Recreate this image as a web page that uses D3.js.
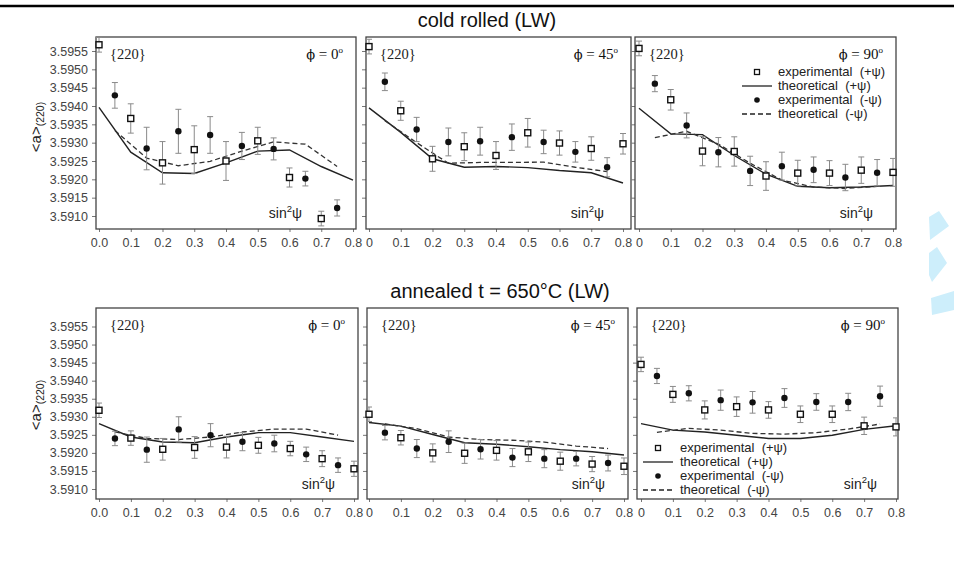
<!DOCTYPE html>
<html>
<head>
<meta charset="utf-8">
<script src="https://cdn.jsdelivr.net/npm/d3@7"></script>
<style>
  body { margin: 0; background: #fff; }
  svg { display: block; }
</style>
</head>
<body>
<script>
// sin^2(psi) positions of the +psi and -psi measurements
const psiPlus  = [0, 0.1, 0.2, 0.3, 0.4, 0.5, 0.6, 0.7, 0.8];
const psiMinus = [0.05, 0.15, 0.25, 0.35, 0.45, 0.55, 0.65, 0.75];

const xTicks = [0, 0.1, 0.2, 0.3, 0.4, 0.5, 0.6, 0.7, 0.8];
const xTickLabelsFirst = ["0.0", "0.1", "0.2", "0.3", "0.4", "0.5", "0.6", "0.7", "0.8"];
const xTickLabelsOther = ["0", "0.1", "0.2", "0.3", "0.4", "0.5", "0.6", "0.7", "0.8"];
const yTicks = [3.5910, 3.5915, 3.5920, 3.5925, 3.5930, 3.5935, 3.5940, 3.5945, 3.5950, 3.5955];
const yTickLabels = ["3.5910", "3.5915", "3.5920", "3.5925", "3.5930", "3.5935", "3.5940", "3.5945", "3.5950", "3.5955"];

const rowTitles = ["cold rolled (LW)", "annealed t = 650°C (LW)"];
const phiLabels = ["0", "45", "90"];

// cold rolled, phi = 0
const cr0ExpPlus  = [3.59567, 3.59366, 3.59245, 3.59281, 3.59250, 3.59305, 3.59205, 3.59093, null];
const cr0ErrPlus  = [0.00020, 0.00040, 0.00058, 0.00065, 0.00053, 0.00037, 0.00026, 0.00020, null];
const cr0ExpMinus = [3.59429, 3.59284, 3.59331, 3.59321, 3.59291, 3.59283, 3.59202, 3.59122];
const cr0ErrMinus = [0.00035, 0.00058, 0.00060, 0.00050, 0.00037, 0.00030, 0.00020, 0.00022];
const cr0TheoPlus  = [3.59396, 3.59274, 3.59218, 3.59216, 3.59245, 3.59277, 3.59280, 3.59235, 3.59198];
const cr0TheoMinus = [3.59333, 3.59258, 3.59237, 3.59249, 3.59277, 3.59302, 3.59296, 3.59235];

// cold rolled, phi = 45
const cr45ExpPlus  = [3.59562, 3.59387, 3.59256, 3.59289, 3.59265, 3.59327, 3.59299, 3.59284, 3.59297];
const cr45ErrPlus  = [0.00020, 0.00026, 0.00034, 0.00038, 0.00038, 0.00039, 0.00033, 0.00032, 0.00028];
const cr45ExpMinus = [3.59466, 3.59336, 3.59302, 3.59304, 3.59315, 3.59302, 3.59275, 3.59233];
const cr45ErrMinus = [0.00024, 0.00033, 0.00038, 0.00038, 0.00036, 0.00032, 0.00028, 0.00026];
const cr45TheoPlus  = [3.59395, 3.59328, 3.59256, 3.59233, 3.59235, 3.59232, 3.59224, 3.59218, 3.59190];
const cr45TheoMinus = [3.59360, 3.59300, 3.59244, 3.59246, 3.59246, 3.59247, 3.59233, 3.59221];

// cold rolled, phi = 90
const cr90ExpPlus  = [3.59557, 3.59417, 3.59277, 3.59276, 3.59209, 3.59217, 3.59217, 3.59225, 3.59219];
const cr90ErrPlus  = [0.00020, 0.00028, 0.00040, 0.00040, 0.00039, 0.00035, 0.00034, 0.00036, 0.00038];
const cr90ExpMinus = [3.59461, 3.59347, 3.59274, 3.59223, 3.59236, 3.59226, 3.59205, 3.59218];
const cr90ErrMinus = [0.00022, 0.00034, 0.00040, 0.00040, 0.00038, 0.00035, 0.00036, 0.00036];
const cr90TheoPlus  = [3.59394, 3.59324, 3.59322, 3.59265, 3.59214, 3.59181, 3.59177, 3.59179, 3.59183];
const cr90TheoMinus = [3.59314, 3.59331, 3.59296, 3.59244, 3.59198, 3.59179, 3.59175, 3.59181];

// annealed, phi = 0
const an0ExpPlus  = [3.59318, 3.59241, 3.59210, 3.59215, 3.59216, 3.59221, 3.59212, 3.59184, 3.59156];
const an0ErrPlus  = [0.00020, 0.00020, 0.00030, 0.00030, 0.00030, 0.00022, 0.00020, 0.00022, 0.00021];
const an0ExpMinus = [3.59240, 3.59209, 3.59265, 3.59249, 3.59231, 3.59226, 3.59196, 3.59166];
const an0ErrMinus = [0.00020, 0.00035, 0.00035, 0.00032, 0.00025, 0.00023, 0.00020, 0.00020];
const an0TheoPlus  = [3.59281, 3.59244, 3.59230, 3.59228, 3.59244, 3.59256, 3.59256, 3.59244, 3.59232];
const an0TheoMinus = [3.59258, 3.59240, 3.59237, 3.59244, 3.59258, 3.59266, 3.59266, 3.59249];

// annealed, phi = 45
const an45ExpPlus  = [3.59307, 3.59242, 3.59200, 3.59199, 3.59207, 3.59203, 3.59177, 3.59169, 3.59163];
const an45ErrPlus  = [0.00020, 0.00020, 0.00025, 0.00028, 0.00027, 0.00027, 0.00025, 0.00021, 0.00023];
const an45ExpMinus = [3.59256, 3.59212, 3.59231, 3.59210, 3.59187, 3.59184, 3.59184, 3.59172];
const an45ErrMinus = [0.00020, 0.00025, 0.00030, 0.00027, 0.00025, 0.00025, 0.00020, 0.00022];
const an45TheoPlus  = [3.59284, 3.59274, 3.59251, 3.59228, 3.59224, 3.59217, 3.59209, 3.59203, 3.59194];
const an45TheoMinus = [3.59280, 3.59267, 3.59244, 3.59237, 3.59235, 3.59230, 3.59219, 3.59212];

// annealed, phi = 90
const an90ExpPlus  = [3.59445, 3.59362, 3.59319, 3.59328, 3.59319, 3.59307, 3.59307, 3.59275, 3.59272];
const an90ErrPlus  = [0.00020, 0.00022, 0.00025, 0.00027, 0.00023, 0.00023, 0.00023, 0.00024, 0.00025];
const an90ExpMinus = [3.59413, 3.59365, 3.59346, 3.59340, 3.59352, 3.59341, 3.59341, 3.59357];
const an90ErrMinus = [0.00021, 0.00021, 0.00028, 0.00030, 0.00026, 0.00023, 0.00024, 0.00028];
const an90TheoPlus  = [3.59281, 3.59263, 3.59258, 3.59249, 3.59240, 3.59240, 3.59249, 3.59265, 3.59275];
const an90TheoMinus = [3.59257, 3.59268, 3.59263, 3.59254, 3.59252, 3.59256, 3.59266, 3.59280];

const legendLabels = ["experimental  (+ψ)", "theoretical  (+ψ)", "experimental  (-ψ)", "theoretical  (-ψ)"];

// ---- layout -------------------------------------------------------------
const W = 954, H = 574;
const SANS = "'Liberation Sans', Arial, Helvetica, sans-serif";
const SERIF = "'Liberation Serif', 'Times New Roman', serif";

// frame box, x pixel range for 0..0.8, y pixel for 3.5910 / 3.5955
const rowLayout = [
  {top: 37, bottom: 229, yLo: 216, yHi: 51, titleX: 487, titleY: 27, ylabY: 127, sinY: 218},
  {top: 308, bottom: 499, yLo: 489, yHi: 326.5, titleX: 500, titleY: 298, ylabY: 405, sinY: 489}
];
const colLayout = [
  [{left: 96, right: 356, x0: 99, x1: 353, sinX: 302}, {left: 366, right: 631, x0: 369, x1: 623, sinX: 604}, {left: 635, right: 896, x0: 639, x1: 893, sinX: 873}],
  [{left: 96, right: 358, x0: 99, x1: 354, sinX: 335}, {left: 367, right: 628, x0: 369, x1: 624, sinX: 605}, {left: 637, right: 898, x0: 641, x1: 896, sinX: 877}]
];

const panelData = [
  [[cr0ExpPlus, cr0ErrPlus, cr0ExpMinus, cr0ErrMinus, cr0TheoPlus, cr0TheoMinus],
   [cr45ExpPlus, cr45ErrPlus, cr45ExpMinus, cr45ErrMinus, cr45TheoPlus, cr45TheoMinus],
   [cr90ExpPlus, cr90ErrPlus, cr90ExpMinus, cr90ErrMinus, cr90TheoPlus, cr90TheoMinus]],
  [[an0ExpPlus, an0ErrPlus, an0ExpMinus, an0ErrMinus, an0TheoPlus, an0TheoMinus],
   [an45ExpPlus, an45ErrPlus, an45ExpMinus, an45ErrMinus, an45TheoPlus, an45TheoMinus],
   [an90ExpPlus, an90ErrPlus, an90ExpMinus, an90ErrMinus, an90TheoPlus, an90TheoMinus]]
];

const svg = d3.select("body").append("svg")
    .attr("width", W)
    .attr("height", H)
    .style("font-family", SANS);

// rule across the top of the page
svg.append("line")
    .attr("x1", 0).attr("x2", W)
    .attr("y1", 6).attr("y2", 6)
    .attr("stroke", "#000")
    .attr("stroke-width", 2.5);

// light blue watermark fragments on the right edge
const marks = [
  [[929, 217], [939, 211], [949, 226], [930, 240]],
  [[929, 253], [937, 247], [947, 263], [932, 282], [929, 275]],
  [[931, 298], [954, 291], [954, 310], [932, 315]]
];
svg.selectAll(".wm").data(marks).join("polygon")
    .attr("points", d => d.map(p => p.join(",")).join(" "))
    .attr("fill", "#cdeefb");

rowLayout.forEach((row, r) => {
  svg.append("text")
      .attr("x", row.titleX).attr("y", row.titleY)
      .attr("text-anchor", "middle")
      .attr("font-size", 20)
      .attr("fill", "#111")
      .text(rowTitles[r]);

  // y axis label <a>(220)
  const yl = svg.append("text")
      .attr("transform", `translate(41,${row.ylabY}) rotate(-90)`)
      .attr("text-anchor", "middle")
      .attr("font-size", 15)
      .attr("fill", "#222");
  yl.append("tspan").text("<a>");
  yl.append("tspan").attr("dy", 3).attr("font-size", 10.5).text("(220)");

  colLayout[r].forEach((c, k) => drawPanel(row, c, panelData[r][k], k, r));
});

function drawPanel(row, c, d, k, r) {
  const [expPlus, errPlus, expMinus, errMinus, theoPlus, theoMinus] = d;
  const x = d3.scaleLinear().domain([0, 0.8]).range([c.x0, c.x1]);
  const y = d3.scaleLinear().domain([3.5910, 3.5955]).range([row.yLo, row.yHi]);
  const g = svg.append("g");

  // x axis
  const xa = g.append("g")
      .attr("transform", `translate(0,${row.bottom})`)
      .call(d3.axisBottom(x).tickValues(xTicks).tickSize(3).tickPadding(6)
        .tickFormat((v, i) => (k === 0 ? xTickLabelsFirst : xTickLabelsOther)[i]));
  // y axis
  const ya = g.append("g")
      .attr("transform", `translate(${c.left},0)`)
      .call(d3.axisLeft(y).tickValues(yTicks).tickSize(4).tickPadding(4)
        .tickFormat((v, i) => k === 0 ? yTickLabels[i] : ""));
  [xa, ya].forEach(a => {
    a.select(".domain").remove();
    a.selectAll(".tick line").attr("stroke", "#777");
    a.selectAll(".tick text").attr("fill", "#444").attr("font-size", 12.5).attr("font-family", SANS);
  });

  // frame
  g.append("rect")
      .attr("x", c.left).attr("y", row.top)
      .attr("width", c.right - c.left).attr("height", row.bottom - row.top)
      .attr("fill", "none")
      .attr("stroke", "#444")
      .attr("stroke-width", 1.3);

  // theoretical curves
  const line = d3.line().x(p => x(p[0])).y(p => y(p[1]));
  g.append("path")
      .datum(psiPlus.map((s, i) => [s, theoPlus[i]]))
      .attr("fill", "none").attr("stroke", "#222").attr("stroke-width", 1.4)
      .attr("d", line);
  g.append("path")
      .datum(psiMinus.map((s, i) => [s, theoMinus[i]]))
      .attr("fill", "none").attr("stroke", "#333").attr("stroke-width", 1.3)
      .attr("stroke-dasharray", "5,3")
      .attr("d", line);

  // experimental points with error bars
  const plusPts = psiPlus.map((s, i) => ({s, v: expPlus[i], e: errPlus[i]})).filter(p => p.v != null);
  const minusPts = psiMinus.map((s, i) => ({s, v: expMinus[i], e: errMinus[i]}));
  [...plusPts, ...minusPts].forEach(p => {
    const eb = g.append("g").attr("stroke", "#8a8a8a").attr("stroke-width", 1);
    eb.append("line").attr("x1", x(p.s)).attr("x2", x(p.s)).attr("y1", y(p.v - p.e)).attr("y2", y(p.v + p.e));
    eb.append("line").attr("x1", x(p.s) - 3).attr("x2", x(p.s) + 3).attr("y1", y(p.v - p.e)).attr("y2", y(p.v - p.e));
    eb.append("line").attr("x1", x(p.s) - 3).attr("x2", x(p.s) + 3).attr("y1", y(p.v + p.e)).attr("y2", y(p.v + p.e));
  });
  g.selectAll(".sq").data(plusPts).join("rect")
      .attr("x", p => x(p.s) - 3).attr("y", p => y(p.v) - 3)
      .attr("width", 6).attr("height", 6)
      .attr("fill", "#fff").attr("stroke", "#111").attr("stroke-width", 1.4);
  g.selectAll(".dot").data(minusPts).join("circle")
      .attr("cx", p => x(p.s)).attr("cy", p => y(p.v))
      .attr("r", 3.2)
      .attr("fill", "#111");

  // panel annotations
  g.append("text")
      .attr("x", c.left + 14).attr("y", row.top + 22)
      .attr("font-family", SERIF).attr("font-size", 14.5).attr("fill", "#222")
      .text("{220}");
  const phi = g.append("text")
      .attr("x", c.right - 13).attr("y", row.top + 22)
      .attr("text-anchor", "end")
      .attr("font-family", SERIF).attr("font-size", 15).attr("fill", "#111");
  phi.append("tspan").attr("font-family", "'DejaVu Serif', serif").attr("font-size", 13).text("ϕ");
  phi.append("tspan").text(` = ${phiLabels[k]}`);
  phi.append("tspan").attr("dy", -6).attr("font-size", 9).text("o");

  const sn = g.append("text")
      .attr("x", c.sinX).attr("y", row.sinY)
      .attr("text-anchor", "end")
      .attr("font-size", 14).attr("fill", "#222");
  sn.append("tspan").text("sin");
  sn.append("tspan").attr("dy", -6).attr("font-size", 9.5).text("2");
  sn.append("tspan").attr("dy", 6).text("ψ");

  if (k === 2) drawLegend(g, r === 0 ? {mx: 757, lx0: 742, lx1: 772, tx: 778, y0: 76} : {mx: 658, lx0: 643, lx1: 673, tx: 680, y0: 452});
}

function drawLegend(g, L) {
  legendLabels.forEach((t, i) => {
    const yb = L.y0 + i * 14;
    const ym = yb - 4;
    if (i === 0) {
      g.append("rect").attr("x", L.mx - 2.5).attr("y", ym - 2.5).attr("width", 5).attr("height", 5)
          .attr("fill", "#fff").attr("stroke", "#111").attr("stroke-width", 1.3);
    } else if (i === 2) {
      g.append("circle").attr("cx", L.mx).attr("cy", ym).attr("r", 2.8).attr("fill", "#111");
    } else {
      g.append("line").attr("x1", L.lx0).attr("x2", L.lx1).attr("y1", ym).attr("y2", ym)
          .attr("stroke", "#222").attr("stroke-width", 1.3)
          .attr("stroke-dasharray", i === 3 ? "5,3" : null);
    }
    g.append("text").attr("x", L.tx).attr("y", yb)
        .attr("font-size", 13).attr("fill", "#222")
        .attr("xml:space", "preserve").style("white-space", "pre")
        .text(t);
  });
}
</script>
</body>
</html>
